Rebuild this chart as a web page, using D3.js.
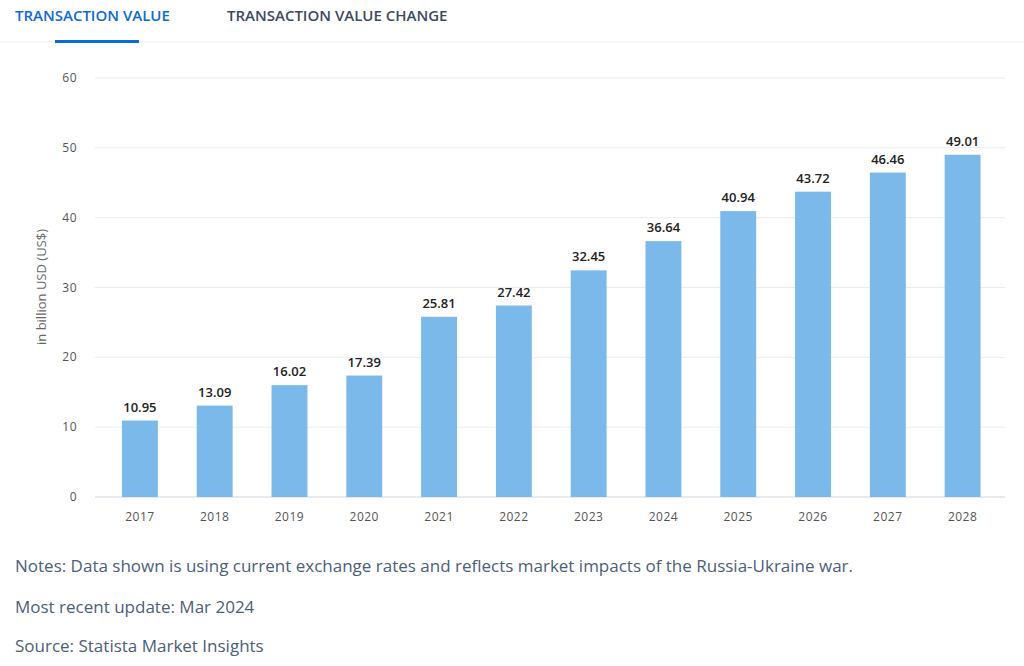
<!DOCTYPE html>
<html><head><meta charset="utf-8">
<script src="https://cdn.jsdelivr.net/npm/d3@7"></script>
<style>body{margin:0;background:#fff;font-family:"Open Sans",sans-serif;}</style>
</head><body><svg id="c" width="1024" height="666"></svg>
<script>
const years=["2017","2018","2019","2020","2021","2022","2023","2024","2025","2026","2027","2028"];
const values=[10.95,13.09,16.02,17.39,25.81,27.42,32.45,36.64,40.94,43.72,46.46,49.01];
const yTicks=[0,10,20,30,40,50,60];
const notes=["Notes: Data shown is using current exchange rates and reflects market impacts of the Russia-Ukraine war.","Most recent update: Mar 2024","Source: Statista Market Insights"];
const svg=d3.select("#c");
// tabs
svg.append("line").attr("x1",0).attr("x2",1024).attr("y1",42).attr("y2",42).attr("stroke","#eceff3");
svg.append("text").attr("x",15).attr("y",21).attr("fill","#0c6bd6").attr("font-size",15).attr("font-weight",600).text("TRANSACTION VALUE");
svg.append("text").attr("x",227).attr("y",21).attr("fill","#3c4a5e").attr("font-size",15).attr("font-weight",600).text("TRANSACTION VALUE CHANGE");
svg.append("rect").attr("x",55).attr("y",40).attr("width",84).attr("height",3).attr("fill","#0c6bd6");
const x=d3.scaleBand().domain(years).range([102.5,1000]).paddingInner(0.52).paddingOuter(0.26);
const y=d3.scaleLinear().domain([0,60]).range([497,78]);
const g=svg.append("g");
g.selectAll(".grid").data(yTicks).join("line").attr("x1",95).attr("x2",1005)
 .attr("y1",d=>y(d)).attr("y2",d=>y(d)).attr("stroke",d=>d===0?"#cfd6de":"#e8ecf0");
g.selectAll(".yt").data(yTicks).join("text").attr("x",77).attr("y",d=>y(d)+4).attr("text-anchor","end")
 .attr("font-size",12).attr("fill","#555").attr("letter-spacing","0.5").text(d=>d);
svg.append("text").attr("transform","translate(46,287) rotate(-90)").attr("text-anchor","middle")
 .attr("font-size",13).attr("fill","#666").text("in billion USD (US$)");
g.selectAll(".bar").data(values).join("rect").attr("x",(d,i)=>x(years[i])).attr("width",x.bandwidth())
 .attr("y",d=>y(d)).attr("height",d=>y(0)-y(d)).attr("fill","#7cb9eb");
g.selectAll(".vl").data(values).join("text").attr("x",(d,i)=>x(years[i])+x.bandwidth()/2).attr("y",d=>y(d)-9)
 .attr("text-anchor","middle").attr("font-size",13).attr("font-weight",600).attr("fill","#222").text(d=>d.toFixed(2));
g.selectAll(".xl").data(years).join("text").attr("x",d=>x(d)+x.bandwidth()/2).attr("y",521)
 .attr("text-anchor","middle").attr("font-size",12).attr("fill","#555").attr("letter-spacing","0.5").text(d=>d);
svg.selectAll(".note").data(notes).join("text").attr("x",15).attr("y",(d,i)=>[572,613,652][i])
 .attr("font-size",17).attr("fill","#4d5e78").text(d=>d);
</script></body></html>
